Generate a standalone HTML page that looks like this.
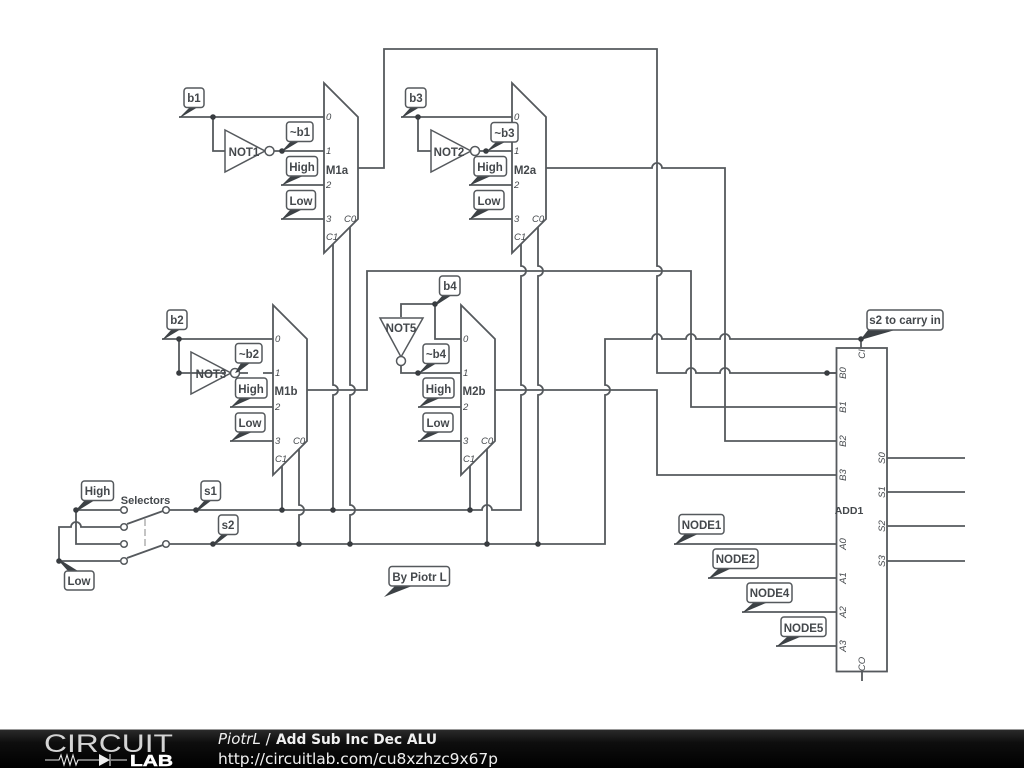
<!DOCTYPE html>
<html><head><meta charset="utf-8"><style>
html,body{margin:0;padding:0;background:#fff}
svg{display:block}
.w{fill:none;stroke:#55595d;stroke-width:1.8}
.d{fill:#383c40;stroke:none}
.g{fill:#fff;stroke:#55595d;stroke-width:1.8}
.b{fill:#fff;stroke:#55595d;stroke-width:1.5}
.t{fill:#3c4145;stroke:none}
text{font-family:"Liberation Sans",sans-serif;fill:#44484c}
.l{font-size:11.5px;font-weight:bold;text-anchor:middle}
.p{font-size:9.5px;font-style:italic}
.r{font-size:9.5px;font-style:italic;text-anchor:middle}
</style></head><body>
<svg width="1024" height="768" viewBox="0 0 1024 768" xmlns="http://www.w3.org/2000/svg">
<defs><linearGradient id="f" x1="0" y1="0" x2="0" y2="1"><stop offset="0" stop-color="#2c2c2c"/><stop offset=".35" stop-color="#0e0e0e"/><stop offset="1" stop-color="#000"/></linearGradient></defs>
<rect width="1024" height="768" fill="#fff"/>
<g class="w">
<path d="M358 168H384V49H657V266A5 5 0 0 1 657 276V373H686A5 5 0 0 1 696 373H720A5 5 0 0 1 730 373H836"/>
<path d="M546 168H652A5 5 0 0 1 662 168H725V441H836"/>
<path d="M307 390H367V271H691V407H836"/>
<path d="M495 390H657V475H836"/>
<path d="M521 244V266A5 5 0 0 1 521 276V385A5 5 0 0 1 521 395V510H492A5 5 0 0 0 482 510H166"/>
<path d="M861 348V339H730A5 5 0 0 0 720 339H696A5 5 0 0 0 686 339H662A5 5 0 0 0 652 339H605V385A5 5 0 0 1 605 395V544H166"/>
<path d="M538 227V266A5 5 0 0 1 538 276V385A5 5 0 0 1 538 395V544"/>
<path d="M333 244V385A5 5 0 0 1 333 395V510"/>
<path d="M350 227V385A5 5 0 0 1 350 395V505A5 5 0 0 1 350 515V544"/>
<path d="M282 466V510"/>
<path d="M299 449V505A5 5 0 0 1 299 515V544"/>
<path d="M470 466V510"/>
<path d="M487 449V544"/>
<path d="M179 117H324M213 117V151H225M274 151H324M281 185H324M281 219H324"/>
<path d="M401 117H512M418 117V151H431M480 151H512M469 185H512M469 219H512"/>
<path d="M162 339H273M179 339V373H226M240 373H248M263 373H273M230 407H273M230 441H273"/>
<path d="M435 304V339H461M435 304H401V317M401 366V373H461M418 407H461M418 441H461"/>
<path d="M76 510H120M59 561V527H71A5 5 0 0 1 81 527H120M76 510V544H120M59 561H120M127 524L163 511M127 558L163 545"/>
<path d="M887 458H965M887 492H965M887 526H965M887 561H965M674 544H836M708 578H836M742 612H836M776 646H836M862 672V681"/>
</g>
<path d="M145 519V547" fill="none" stroke="#aaa" stroke-width="1.4" stroke-dasharray="7 3"/>
<path class="g" d="M324 83L358 117V219L324 253Z"/>
<path class="g" d="M512 83L546 117V219L512 253Z"/>
<path class="g" d="M273 305L307 339V441L273 475Z"/>
<path class="g" d="M461 305L495 339V441L461 475Z"/>
<path class="b" style="fill:none" d="M225 130L265 151L225 172Z"/>
<circle class="b" cx="269.500" cy="151" r="4.500"/>
<path class="b" style="fill:none" d="M431 130L471 151L431 172Z"/>
<circle class="b" cx="475" cy="151" r="4.500"/>
<path class="b" style="fill:none" d="M191 352L231 373L191 394Z"/>
<circle class="b" cx="235" cy="373" r="4.500"/>
<path class="b" style="fill:none" d="M380 318H423L401 357Z"/>
<circle class="b" cx="401" cy="361" r="4.500"/>
<g class="b">
<circle cx="124" cy="510" r="3.300"/><circle cx="124" cy="527" r="3.300"/><circle cx="124" cy="544" r="3.300"/><circle cx="124" cy="561" r="3.300"/>
<circle cx="166" cy="510" r="3.300"/><circle cx="166" cy="544" r="3.300"/>
</g>
<rect class="g" x="836.500" y="348" width="50.500" height="323.500"/>
<path class="w" d="M827 373H836"/>
<g class="d">
<circle cx="213" cy="117" r="2.800"/><circle cx="282" cy="151" r="2.800"/>
<circle cx="418" cy="117" r="2.800"/><circle cx="486" cy="151" r="2.800"/>
<circle cx="179" cy="339" r="2.800"/><circle cx="179" cy="373" r="2.800"/>
<circle cx="435" cy="304" r="2.800"/><circle cx="418" cy="373" r="2.800"/>
<circle cx="76" cy="510" r="2.800"/><circle cx="59" cy="561" r="2.800"/>
<circle cx="196" cy="510" r="2.800"/><circle cx="213" cy="544" r="2.800"/>
<circle cx="282" cy="510" r="2.800"/><circle cx="333" cy="510" r="2.800"/><circle cx="470" cy="510" r="2.800"/>
<circle cx="299" cy="544" r="2.800"/><circle cx="350" cy="544" r="2.800"/><circle cx="487" cy="544" r="2.800"/><circle cx="538" cy="544" r="2.800"/>
<circle cx="861" cy="339" r="2.800"/><circle cx="827" cy="373" r="2.800"/>
</g>
<g class="t">
<polygon points="179,118 190,107 198,107 183,116"/>
<polygon points="281,152 291,141 300,141 285,150"/>
<polygon points="281,186 291,176 303,176 285,184"/>
<polygon points="281,220 291,209 303,209 285,218"/>
<polygon points="401,118 411,107 420,107 405,116"/>
<polygon points="486,152 496,142 505,142 490,150"/>
<polygon points="469,186 478,176 491,176 473,184"/>
<polygon points="469,220 478,209 491,209 473,218"/>
<polygon points="162,340 172,329 181,329 166,338"/>
<polygon points="235,373 241,363 250,363 238,372"/>
<polygon points="230,408 240,398 252,398 234,406"/>
<polygon points="230,442 240,432 252,432 234,440"/>
<polygon points="435,304 443,295 452,295 438,304"/>
<polygon points="418,374 428,363 437,363 422,372"/>
<polygon points="418,408 428,398 440,398 422,406"/>
<polygon points="418,442 428,432 440,432 422,440"/>
<polygon points="76,510 85,500 95,500 79,510"/>
<polygon points="59,561 68,571 78,571 62,561"/>
<polygon points="196,510 205,500 212,500 199,510"/>
<polygon points="213,544 222,534 229,534 216,544"/>
<polygon points="861,339 868,330 895,330 864,339"/>
<polygon points="674,545 685,534 698,534 679,543"/>
<polygon points="708,579 719,568 732,568 713,577"/>
<polygon points="742,613 753,603 766,603 747,611"/>
<polygon points="776,647 787,637 800,637 781,645"/>
<polygon points="384,597 395,586 412,586 389,595"/>
</g>
<g class="b">
<rect x="184" y="88" width="20" height="19.500" rx="3"/>
<rect x="286.500" y="122" width="26.500" height="19.500" rx="3"/>
<rect x="286.500" y="156.500" width="31" height="19.500" rx="3"/>
<rect x="286.500" y="190.500" width="29" height="19" rx="3"/>
<rect x="405.500" y="88" width="20.500" height="19.500" rx="3"/>
<rect x="491" y="122.500" width="27" height="19.500" rx="3"/>
<rect x="474" y="156.500" width="32.500" height="19.500" rx="3"/>
<rect x="474" y="190.500" width="30" height="19" rx="3"/>
<rect x="167" y="310" width="20" height="19.500" rx="3"/>
<rect x="235.500" y="343.500" width="26.500" height="19.500" rx="3"/>
<rect x="235.500" y="378" width="31.500" height="20" rx="3"/>
<rect x="235.500" y="413" width="29.500" height="19" rx="3"/>
<rect x="439.500" y="276" width="20.500" height="19.500" rx="3"/>
<rect x="423" y="344" width="26" height="19.500" rx="3"/>
<rect x="423" y="378" width="31" height="20" rx="3"/>
<rect x="423" y="413" width="30" height="19" rx="3"/>
<rect x="81.500" y="481" width="32" height="19.500" rx="3"/>
<rect x="64.500" y="571" width="29.500" height="19" rx="3"/>
<rect x="201" y="481" width="19.500" height="19.500" rx="3"/>
<rect x="218.500" y="515" width="19.500" height="19.500" rx="3"/>
<rect x="867" y="310" width="76" height="20" rx="3"/>
<rect x="679" y="514.500" width="45" height="19.500" rx="3"/>
<rect x="713" y="549" width="45" height="19.500" rx="3"/>
<rect x="747" y="583" width="45" height="19.500" rx="3"/>
<rect x="781" y="617" width="45" height="19.500" rx="3"/>
<rect x="389" y="566.500" width="60.500" height="19.500" rx="3"/>
</g>
<text class="l" x="194" y="102">b1</text>
<text class="l" x="300" y="136">~b1</text>
<text class="l" x="302" y="171">High</text>
<text class="l" x="301" y="205">Low</text>
<text class="l" x="416" y="102">b3</text>
<text class="l" x="504.500" y="137">~b3</text>
<text class="l" x="490" y="171">High</text>
<text class="l" x="489" y="205">Low</text>
<text class="l" x="177" y="324">b2</text>
<text class="l" x="249" y="358">~b2</text>
<text class="l" x="251" y="393">High</text>
<text class="l" x="250" y="427">Low</text>
<text class="l" x="450" y="290">b4</text>
<text class="l" x="436" y="358">~b4</text>
<text class="l" x="438.500" y="393">High</text>
<text class="l" x="438" y="427">Low</text>
<text class="l" x="97.500" y="495">High</text>
<text class="l" x="79" y="585">Low</text>
<text class="l" x="210.500" y="495">s1</text>
<text class="l" x="228" y="529">s2</text>
<text class="l" x="905" y="324">s2 to carry in</text>
<text class="l" x="701.500" y="529">NODE1</text>
<text class="l" x="735.500" y="563">NODE2</text>
<text class="l" x="769.500" y="597">NODE4</text>
<text class="l" x="803.500" y="632">NODE5</text>
<text class="l" x="419.500" y="581">By Piotr L</text>
<text class="l" x="145.500" y="504" style="font-size:11px">Selectors</text>
<text class="l" x="244" y="156">NOT1</text>
<text class="l" x="449" y="156">NOT2</text>
<text class="l" x="211" y="378">NOT3</text>
<text class="l" x="401" y="332">NOT5</text>
<text class="l" x="337" y="174">M1a</text>
<text class="l" x="525" y="174">M2a</text>
<text class="l" x="286" y="395">M1b</text>
<text class="l" x="474" y="395">M2b</text>
<text class="l" x="849" y="514" style="font-size:10.500px">ADD1</text>
<g class="p">
<text x="326" y="120">0</text><text x="326" y="154">1</text><text x="326" y="188">2</text><text x="326" y="222">3</text><text x="326" y="240">C1</text><text x="344" y="222">C0</text>
<text x="514" y="120">0</text><text x="514" y="154">1</text><text x="514" y="188">2</text><text x="514" y="222">3</text><text x="514" y="240">C1</text><text x="532" y="222">C0</text>
<text x="275" y="342">0</text><text x="275" y="376">1</text><text x="275" y="410">2</text><text x="275" y="444">3</text><text x="275" y="462">C1</text><text x="293" y="444">C0</text>
<text x="463" y="342">0</text><text x="463" y="376">1</text><text x="463" y="410">2</text><text x="463" y="444">3</text><text x="463" y="462">C1</text><text x="481" y="444">C0</text>
</g>
<g class="r">
<text transform="translate(865,354) rotate(-90)">CI</text>
<text transform="translate(846,373) rotate(-90)">B0</text>
<text transform="translate(846,407) rotate(-90)">B1</text>
<text transform="translate(846,441) rotate(-90)">B2</text>
<text transform="translate(846,475) rotate(-90)">B3</text>
<text transform="translate(846,544) rotate(-90)">A0</text>
<text transform="translate(846,578) rotate(-90)">A1</text>
<text transform="translate(846,612) rotate(-90)">A2</text>
<text transform="translate(846,646) rotate(-90)">A3</text>
<text transform="translate(865,664) rotate(-90)">CO</text>
<text transform="translate(885,458) rotate(-90)">S0</text>
<text transform="translate(885,492) rotate(-90)">S1</text>
<text transform="translate(885,526) rotate(-90)">S2</text>
<text transform="translate(885,561) rotate(-90)">S3</text>
</g>
<rect x="0" y="729" width="1024" height="39" fill="url(#f)"/>
<rect x="0" y="729" width="1024" height="1" fill="#999"/>
<text x="44" y="752" style="font-size:25px;fill:#d4d4d4" textLength="129" lengthAdjust="spacingAndGlyphs">CIRCUIT</text>
<path d="M45 760H59L61 755L64 765L67 755L70 765L73 755L76 765L78 760H99M111 760H127M110 754V766" fill="none" stroke="#e8e8e8" stroke-width="1.100"/>
<polygon points="99,754 110,760 99,766" fill="#eee"/>
<text x="130" y="766" style="font-size:16px;font-weight:bold;fill:#fff;stroke:#fff;stroke-width:.5" textLength="43" lengthAdjust="spacingAndGlyphs">LAB</text>
<text x="218" y="744" style="font-family:'DejaVu Sans',sans-serif;font-size:15px;fill:#f0f0f0"><tspan font-style="italic">PiotrL</tspan> /</text>
<text x="276" y="744" style="font-family:'DejaVu Sans',sans-serif;font-size:14px;font-weight:bold;fill:#f0f0f0" textLength="161" lengthAdjust="spacingAndGlyphs">Add Sub Inc Dec ALU</text>
<text x="218" y="764" style="font-family:'DejaVu Sans',sans-serif;font-size:15.500px;fill:#f0f0f0" textLength="280">http://circuitlab.com/cu8xzhzc9x67p</text>
</svg>
</body></html>
